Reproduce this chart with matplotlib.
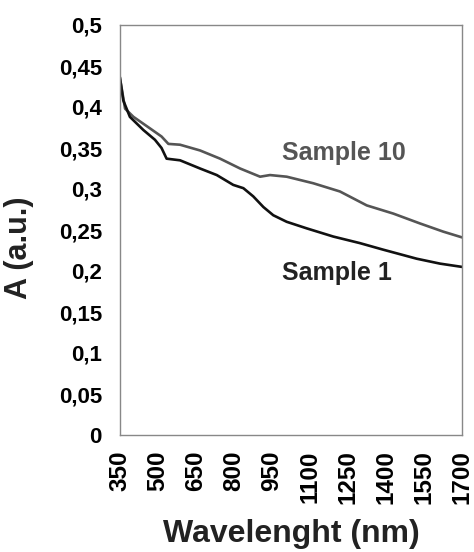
import matplotlib
matplotlib.use('Agg')
import matplotlib.pyplot as plt

plt.rcParams['font.family'] = ['Liberation Sans', 'DejaVu Sans']
plt.rcParams['font.weight'] = 'bold'

# Wellenlaenge (nm) und Absorbanz
wl_s1 = [350, 363, 389, 442, 488, 514, 534, 587, 666, 732, 797, 837, 876, 916,
         955, 1008, 1087, 1192, 1297, 1389, 1521, 1613, 1700]
a_s1 = [0.435, 0.408, 0.388, 0.372, 0.360, 0.350, 0.337, 0.335, 0.325, 0.317,
        0.305, 0.301, 0.291, 0.278, 0.268, 0.260, 0.252, 0.242, 0.234, 0.226,
        0.215, 0.209, 0.205]

wl_s10 = [350, 370, 403, 468, 514, 541, 587, 666, 745, 824, 903, 942, 1008,
          1113, 1218, 1324, 1429, 1534, 1626, 1700]
a_s10 = [0.435, 0.398, 0.388, 0.374, 0.364, 0.355, 0.354, 0.347, 0.337, 0.325,
         0.315, 0.317, 0.315, 0.307, 0.297, 0.280, 0.270, 0.258, 0.248, 0.241]

xticks = [350, 500, 650, 800, 950, 1100, 1250, 1400, 1550, 1700]
yticks = [0, 0.05, 0.1, 0.15, 0.2, 0.25, 0.3, 0.35, 0.4, 0.45, 0.5]
ytick_labels = ['0', '0,05', '0,1', '0,15', '0,2', '0,25', '0,3', '0,35',
                '0,4', '0,45', '0,5']

fig = plt.figure(figsize=(4.74, 5.52), dpi=100)
ax = fig.add_axes([120/474, 117/552, 342/474, 410/552])

ax.plot(wl_s10, a_s10, color='#555555', lw=1.9)
ax.plot(wl_s1, a_s1, color='#111111', lw=1.9)

ax.text(990, 0.344, 'Sample 10', color='#555555', fontsize=18,
        fontweight='bold', ha='left', va='center')
ax.text(990, 0.198, 'Sample 1', color='#222222', fontsize=18,
        fontweight='bold', ha='left', va='center')

ax.set_xlim(350, 1700)
ax.set_ylim(0, 0.5)
ax.set_xticks(xticks)
ax.set_xticklabels([str(x) for x in xticks], rotation=90, fontsize=17.5,
                   fontweight='bold')
ax.set_yticks(yticks)
ax.set_yticklabels(ytick_labels, fontsize=16, fontweight='bold')
ax.tick_params(axis='both', length=0)
ax.tick_params(axis='x', pad=11)
ax.tick_params(axis='y', pad=13)

for s in ax.spines.values():
    s.set_color('#888888')
    s.set_linewidth(1.0)

ax.set_xlabel('Wavelenght (nm)', fontsize=23, fontweight='bold',
              color='#222222')
ax.xaxis.set_label_coords(0.5, -0.205)
ax.set_ylabel('A (a.u.)', fontsize=22, fontweight='bold', color='#222222')
ax.yaxis.set_label_coords(-0.252, 0.457)

fig.savefig('out.png', dpi=100)
